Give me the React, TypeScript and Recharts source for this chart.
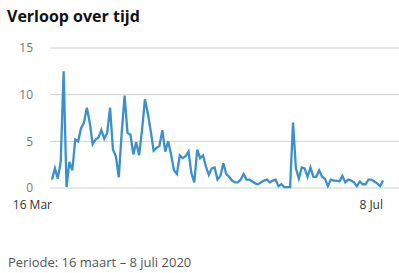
import React from 'react';
import { LineChart, Line, XAxis, YAxis, CartesianGrid } from 'recharts';

const title = 'Verloop over tijd';
const footer = 'Periode: 16 maart – 8 juli 2020';
const xTickIndex = [0, 114];
const xTickLabels = ['16 Mar', '8 Jul'];
const yTicks = [0, 5, 10, 15];

const values: number[] = [
  0.9, 2.1, 1.0, 2.8, 12.5, 0.1, 2.8, 1.9, 5.2, 5.0,
  6.4, 7.0, 8.6, 7.0, 4.7, 5.2, 5.4, 6.2, 5.3, 5.9,
  8.6, 4.1, 3.4, 1.15, 5.9, 9.9, 5.9, 5.7, 3.6, 4.9,
  3.5, 6.2, 9.5, 8.0, 6.1, 4.0, 4.3, 4.5, 6.2, 3.9,
  5.0, 3.6, 1.9, 1.5, 3.5, 3.2, 3.4, 3.9, 1.6, 0.6,
  4.1, 3.2, 3.5, 2.3, 1.4, 2.1, 2.2, 0.9, 1.3, 2.65,
  1.5, 1.2, 0.8, 0.6, 0.6, 0.9, 1.5, 0.9, 0.9, 0.7,
  0.5, 0.4, 0.6, 0.8, 0.9, 0.6, 0.8, 0.9, 0.2, 0.4,
  0.1, 0.1, 0.1, 7.0, 2.1, 1.0, 2.2, 2.1, 1.2, 2.2,
  1.2, 1.2, 1.9, 1.2, 1.0, 0.2, 0.9, 0.8, 0.8, 0.7,
  1.3, 0.6, 0.9, 0.8, 0.6, 0.2, 0.7, 0.4, 0.4, 0.9,
  0.9, 0.7, 0.5, 0.2, 0.8,
];

const data = values.map((v, i) => ({ i, v }));

const FONT = '"Open Sans", "Noto Sans", sans-serif';

const XTick = (props: any) => {
  const { x, y, payload } = props;
  const idx = xTickIndex.indexOf(payload.value);
  return (
    <text x={x} y={y} dy="0.71em" textAnchor="end" fill="#333" fontSize={12} fontFamily={FONT}>
      {xTickLabels[idx]}
    </text>
  );
};

export default function App() {
  return (
    <div style={{ position: 'absolute', left: 0, top: 0, width: 399, height: 273, background: '#fff', fontFamily: FONT }}>
      <div style={{ position: 'absolute', left: 7, top: 5, fontSize: 16, fontWeight: 700, color: '#111', lineHeight: '22px', whiteSpace: 'nowrap' }}>
        {title}
      </div>
      <LineChart width={399} height={273} data={data} margin={{ top: 48, right: 0, bottom: 55, left: 0 }}>
        <CartesianGrid vertical={false} stroke="#d0d0d0" strokeWidth={1} />
        <XAxis
          dataKey="i"
          type="number"
          domain={[-0.69, 119.5]}
          ticks={xTickIndex}
          axisLine={false}
          tickLine={false}
          tickSize={0}
          tickMargin={12}
          height={30}
          tick={<XTick />}
          interval={0}
        />
        <YAxis
          domain={[0, 15]}
          ticks={yTicks}
          axisLine={false}
          tickLine={false}
          tickSize={0}
          tickMargin={17}
          width={50}
          tick={{ fill: '#777', fontSize: 12, fontFamily: FONT }}
        />
        <Line
          type="linear"
          dataKey="v"
          stroke="#3a90cc"
          strokeWidth={2.3}
          dot={false}
          isAnimationActive={false}
        />
      </LineChart>
      <div style={{ position: 'absolute', left: 8, top: 253, fontSize: 13, color: '#555', lineHeight: '18px', whiteSpace: 'nowrap' }}>
        {footer}
      </div>
    </div>
  );
}
